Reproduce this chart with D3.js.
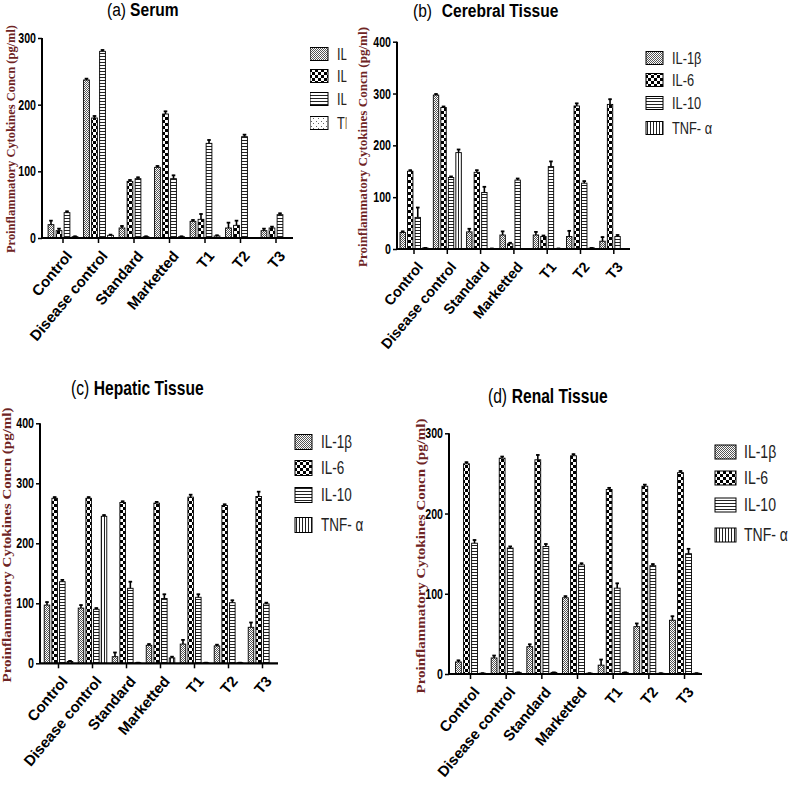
<!DOCTYPE html>
<html><head><meta charset="utf-8">
<script src="https://cdn.jsdelivr.net/npm/d3@7"></script>
<style>
body{margin:0;background:#fff;}
svg{display:block;}
</style></head>
<body>
<svg id="chart" width="790" height="800"></svg>
<script>
// ---------- DATA ----------
const categories = ["Control","Disease control","Standard","Marketted","T1","T2","T3"];
const cytokines = ["IL-1β","IL-6","IL-10","TNF- α"];
const yLabel = "Proinflammatory Cytokines Concn (pg/ml)";

const titlesPrefix = ["(a)","(b)","(c)","(d)"];
const titlesMain = ["Serum","Cerebral Tissue","Hepatic Tissue","Renal Tissue"];

const ticksA = [0,100,200,300];
const ticksB = [0,100,200,300,400];
const ticksC = [0,100,200,300,400];
const ticksD = [0,100,200,300];

// (a) Serum
const serumIL1b  = [20, 237, 15, 106, 25, 15, 11];
const serumIL6   = [11, 180, 85, 186, 28, 19, 15];
const serumIL10  = [38, 280, 89, 89, 142, 152, 35];
const serumTNF   = [2, 4, 2, 2, 3, 0.5, 0.5];
const serumIL1bErr = [6, 2, 3, 2, 2, 8, 3];
const serumIL6Err  = [3, 3, 2, 4, 8, 7, 2];
const serumIL10Err = [2, 2, 2, 5, 5, 3, 2];
const serumTNFErr  = [0.5, 1, 0.5, 0.5, 1, 0, 0];

// (b) Cerebral
const cerebIL1b  = [32, 297, 33, 27, 27, 24, 15];
const cerebIL6   = [150, 273, 148, 10, 24, 276, 279];
const cerebIL10  = [61, 138, 109, 133, 159, 127, 24];
const cerebTNF   = [2, 186, 1, 0, 1, 2, 0];
const cerebIL1bErr = [2, 2, 6, 7, 6, 11, 8];
const cerebIL6Err  = [2, 2, 4, 2, 2, 5, 10];
const cerebIL10Err = [19, 2, 11, 3, 10, 4, 3];
const cerebTNFErr  = [0, 6, 0, 0, 0, 0, 0];

// (c) Hepatic
const hepIL1b  = [97, 92, 11, 30, 32, 29, 60];
const hepIL6   = [275, 275, 268, 267, 277, 263, 278];
const hepIL10  = [136, 90, 125, 108, 110, 101, 99];
const hepTNF   = [3, 245, 1, 9, 1, 1, 0];
const hepIL1bErr = [5, 5, 7, 2, 7, 2, 8];
const hepIL6Err  = [2, 2, 2, 2, 4, 2, 8];
const hepIL10Err = [3, 2, 11, 7, 5, 4, 2];
const hepTNFErr  = [1, 2, 0, 2, 0, 0, 0];

// (d) Renal
const renIL1b  = [15, 20, 34, 95, 11, 59, 67];
const renIL6   = [262, 269, 267, 272, 230, 234, 251];
const renIL10  = [163, 157, 159, 136, 107, 135, 150];
const renTNF   = [1, 2, 2, 1, 2, 1, 1];
const renIL1bErr = [2, 3, 3, 2, 7, 4, 5];
const renIL6Err  = [2, 2, 6, 2, 2, 2, 2];
const renIL10Err = [4, 2, 3, 2, 6, 2, 6];
const renTNFErr  = [0, 0, 0, 0, 0, 0, 0];

// ---------- DRAW ----------
const SANS = "'Liberation Sans',Arial,sans-serif";
const svg = d3.select("#chart");
const defs = svg.append("defs");

function addPatterns(){
  let p = defs.append("pattern").attr("id","pIL1b").attr("patternUnits","userSpaceOnUse").attr("width",2).attr("height",2);
  p.append("rect").attr("width",2).attr("height",2).attr("fill","#fff");
  p.append("rect").attr("width",1).attr("height",1).attr("fill","#555");
  p.append("rect").attr("x",1).attr("y",1).attr("width",1).attr("height",1).attr("fill","#555");
  p = defs.append("pattern").attr("id","pIL6").attr("patternUnits","userSpaceOnUse").attr("width",6).attr("height",6);
  p.append("rect").attr("width",6).attr("height",6).attr("fill","#fff");
  p.append("rect").attr("width",3).attr("height",3).attr("fill","#000");
  p.append("rect").attr("x",3).attr("y",3).attr("width",3).attr("height",3).attr("fill","#000");
  p = defs.append("pattern").attr("id","pIL10").attr("patternUnits","userSpaceOnUse").attr("width",4).attr("height",3);
  p.append("rect").attr("width",4).attr("height",3).attr("fill","#fff");
  p.append("rect").attr("y",2).attr("width",4).attr("height",1).attr("fill","#222");
  p = defs.append("pattern").attr("id","pTNF").attr("patternUnits","userSpaceOnUse").attr("width",3).attr("height",4);
  p.append("rect").attr("width",3).attr("height",4).attr("fill","#fff");
  p.append("rect").attr("x",2).attr("width",1).attr("height",4).attr("fill","#222");
  p = defs.append("pattern").attr("id","pTNFdot").attr("patternUnits","userSpaceOnUse").attr("width",5).attr("height",5);
  p.append("rect").attr("width",5).attr("height",5).attr("fill","#fff");
  p.append("rect").attr("x",1).attr("y",1).attr("width",1).attr("height",1).attr("fill","#666");
  p.append("rect").attr("x",3).attr("y",3).attr("width",1).attr("height",1).attr("fill","#666");
}
addPatterns();

const fills = ["url(#pIL1b)","url(#pIL6)","url(#pIL10)","url(#pTNF)"];

function drawPanel(cfg){
  const g = svg.append("g");
  const n = categories.length;
  const x = d3.scaleBand().domain(categories)
      .range([cfg.c0 - cfg.step/2, cfg.c0 - cfg.step/2 + cfg.step*n]).padding(0);
  const inner = d3.scaleBand().domain(cytokines)
      .range([-cfg.step*0.42, cfg.step*0.42]).paddingInner(0.28).paddingOuter(0);
  const y = d3.scaleLinear().domain([0, cfg.ymax]).range([cfg.y0, cfg.ytop]);

  const rows = [];
  categories.forEach((c,i)=>{
    cytokines.forEach((k,j)=>{
      rows.push({c, k, j, v: cfg.series[j][i], e: cfg.errs[j][i]});
    });
  });
  const cx = d => x(d.c) + x.bandwidth()/2 + inner(d.k);
  g.selectAll("rect.bar").data(rows).enter().append("rect")
    .attr("x", cx)
    .attr("y", d => y(d.v))
    .attr("width", inner.bandwidth())
    .attr("height", d => Math.max(0, y(0) - y(d.v)))
    .attr("fill", d => (cfg.tnfFill && d.j===3) ? cfg.tnfFill : fills[d.j])
    .attr("stroke","#000").attr("stroke-width",0.9);

  const eb = g.selectAll("g.err").data(rows.filter(d=>d.v>0.6)).enter().append("g");
  eb.append("line")
    .attr("x1", d=>cx(d)+inner.bandwidth()/2).attr("x2", d=>cx(d)+inner.bandwidth()/2)
    .attr("y1", d=>y(d.v)).attr("y2", d=>y(d.v+d.e)-0.5)
    .attr("stroke","#000").attr("stroke-width",1.6);
  eb.append("line")
    .attr("x1", d=>cx(d)+inner.bandwidth()/2-1.8).attr("x2", d=>cx(d)+inner.bandwidth()/2+1.8)
    .attr("y1", d=>y(d.v+d.e)).attr("y2", d=>y(d.v+d.e))
    .attr("stroke","#000").attr("stroke-width",1.8);

  // y axis
  const ya = g.append("g").attr("transform",`translate(${cfg.ax},0)`)
    .call(d3.axisLeft(y).tickValues(cfg.ticks).tickSize(4).tickSizeOuter(0).tickFormat(d3.format("d")));
  ya.select(".domain").attr("stroke","#000").attr("stroke-width",2)
    .attr("d", `M0,${cfg.y0}V${cfg.ytop}`);
  ya.selectAll(".tick line").attr("stroke","#000").attr("stroke-width",1.5);
  ya.selectAll(".tick text").attr("font-family",SANS).attr("font-size",cfg.tickFs)
    .attr("font-weight","bold").attr("fill","#000")
    .attr("x",-6/0.76).attr("transform","scale(0.76,1)");

  // x axis
  const xa = g.append("g").attr("transform",`translate(0,${cfg.y0})`)
    .call(d3.axisBottom(x).tickSize(5).tickSizeOuter(0));
  xa.select(".domain").attr("stroke","#000").attr("stroke-width",2.2)
    .attr("d", `M${cfg.ax},0H${cfg.xend}`);
  xa.selectAll(".tick line").attr("stroke","#000").attr("stroke-width",1.5);
  xa.selectAll(".tick text")
    .attr("font-family",SANS)
    .attr("font-weight","bold").attr("font-size",cfg.xFs).attr("fill","#000")
    .attr("text-anchor","end")
    .attr("transform", "translate(6,15) rotate(-50)")
    .attr("y",0).attr("dy","0.35em");

  // y label
  g.append("text")
    .attr("transform",`translate(${cfg.ylx},${cfg.ylc}) rotate(-90)`)
    .attr("text-anchor","middle")
    .attr("font-family","'Liberation Serif','Times New Roman',serif")
    .attr("font-weight","bold").attr("font-size",cfg.ylFs).attr("fill","#6e2424")
    .attr("textLength",cfg.ylLen).attr("lengthAdjust","spacingAndGlyphs")
    .text(yLabel);

  // title
  const t = g.append("text").attr("transform",`translate(${cfg.tx},${cfg.ty}) scale(${cfg.tS},1)`)
    .attr("font-family",SANS).attr("font-size",cfg.tFs).attr("fill","#000");
  t.append("tspan").text(cfg.tPre);
  t.append("tspan").attr("dx",cfg.tGap).attr("font-weight","bold").text(cfg.tMain);

  // legend
  const lg = g.append("g");
  if (cfg.clipX){
    const cid = "clip"+cfg.tPre.replace(/\W/g,"");
    defs.append("clipPath").attr("id",cid).append("rect")
      .attr("x",cfg.lx).attr("y",cfg.ly[0]-30).attr("width",cfg.clipX-cfg.lx).attr("height",200);
    lg.attr("clip-path",`url(#${cid})`);
  }
  cytokines.forEach((k,j)=>{
    lg.append("rect").attr("x",cfg.lx).attr("y",cfg.ly[j]-cfg.lh/2)
      .attr("width",cfg.lw).attr("height",cfg.lh)
      .attr("fill", (cfg.tnfFill && j===3)? cfg.tnfFill : fills[j])
      .attr("stroke","#000").attr("stroke-width",1);
    lg.append("text").attr("font-family",SANS)
      .attr("transform",`translate(${cfg.ltx},${cfg.ly[j]}) scale(${cfg.lS},1)`)
      .attr("dy","0.36em").attr("font-size",cfg.lFs).attr("fill","#222").text(k);
  });
}

drawPanel({series:[serumIL1b,serumIL6,serumIL10,serumTNF], errs:[serumIL1bErr,serumIL6Err,serumIL10Err,serumTNFErr],
  tnfFill:"url(#pTNFdot)",
  c0:63, step:35.5, ax:42, xend:293, y0:238, ytop:38, ymax:300, ticks:ticksA, tickFs:14, xFs:15,
  ylx:15, ylc:139, ylFs:12, ylLen:228,
  tx:107, ty:16, tFs:19, tS:0.82, tPre:titlesPrefix[0], tGap:5, tMain:titlesMain[0],
  lx:310, lw:18, lh:13, ly:[54,76,99,123], ltx:337, lFs:17, lS:0.75, clipX:346.5});

drawPanel({series:[cerebIL1b,cerebIL6,cerebIL10,cerebTNF], errs:[cerebIL1bErr,cerebIL6Err,cerebIL10Err,cerebTNFErr],
  c0:414, step:33.3, ax:397, xend:630, y0:249, ytop:41.7, ymax:400, ticks:ticksB, tickFs:14, xFs:14.5,
  ylx:367, ylc:147, ylFs:12, ylLen:240,
  tx:413, ty:17, tFs:19, tS:0.82, tPre:titlesPrefix[1], tGap:12, tMain:titlesMain[1],
  lx:646, lw:17, lh:13, ly:[58,80,103,128], ltx:672, lFs:16, lS:0.8});

drawPanel({series:[hepIL1b,hepIL6,hepIL10,hepTNF], errs:[hepIL1bErr,hepIL6Err,hepIL10Err,hepTNFErr],
  c0:58.5, step:34, ax:40, xend:278, y0:663.3, ytop:423.3, ymax:400, ticks:ticksC, tickFs:14, xFs:15,
  ylx:11, ylc:545, ylFs:13, ylLen:275,
  tx:71, ty:395, tFs:20, tS:0.78, tPre:titlesPrefix[2], tGap:6, tMain:titlesMain[2],
  lx:295, lw:17, lh:15, ly:[442,468,495,525], ltx:321, lFs:18, lS:0.75});

drawPanel({series:[renIL1b,renIL6,renIL10,renTNF], errs:[renIL1bErr,renIL6Err,renIL10Err,renTNFErr],
  c0:470.5, step:35.67, ax:449, xend:702, y0:674, ytop:433.3, ymax:300, ticks:ticksD, tickFs:14, xFs:15,
  ylx:425, ylc:556, ylFs:13, ylLen:275,
  tx:488, ty:403, tFs:20, tS:0.78, tPre:titlesPrefix[3], tGap:6, tMain:titlesMain[3],
  lx:715, lw:21, lh:14, ly:[452,478,505,535], ltx:744, lFs:18, lS:0.78});
</script>
</body></html>
